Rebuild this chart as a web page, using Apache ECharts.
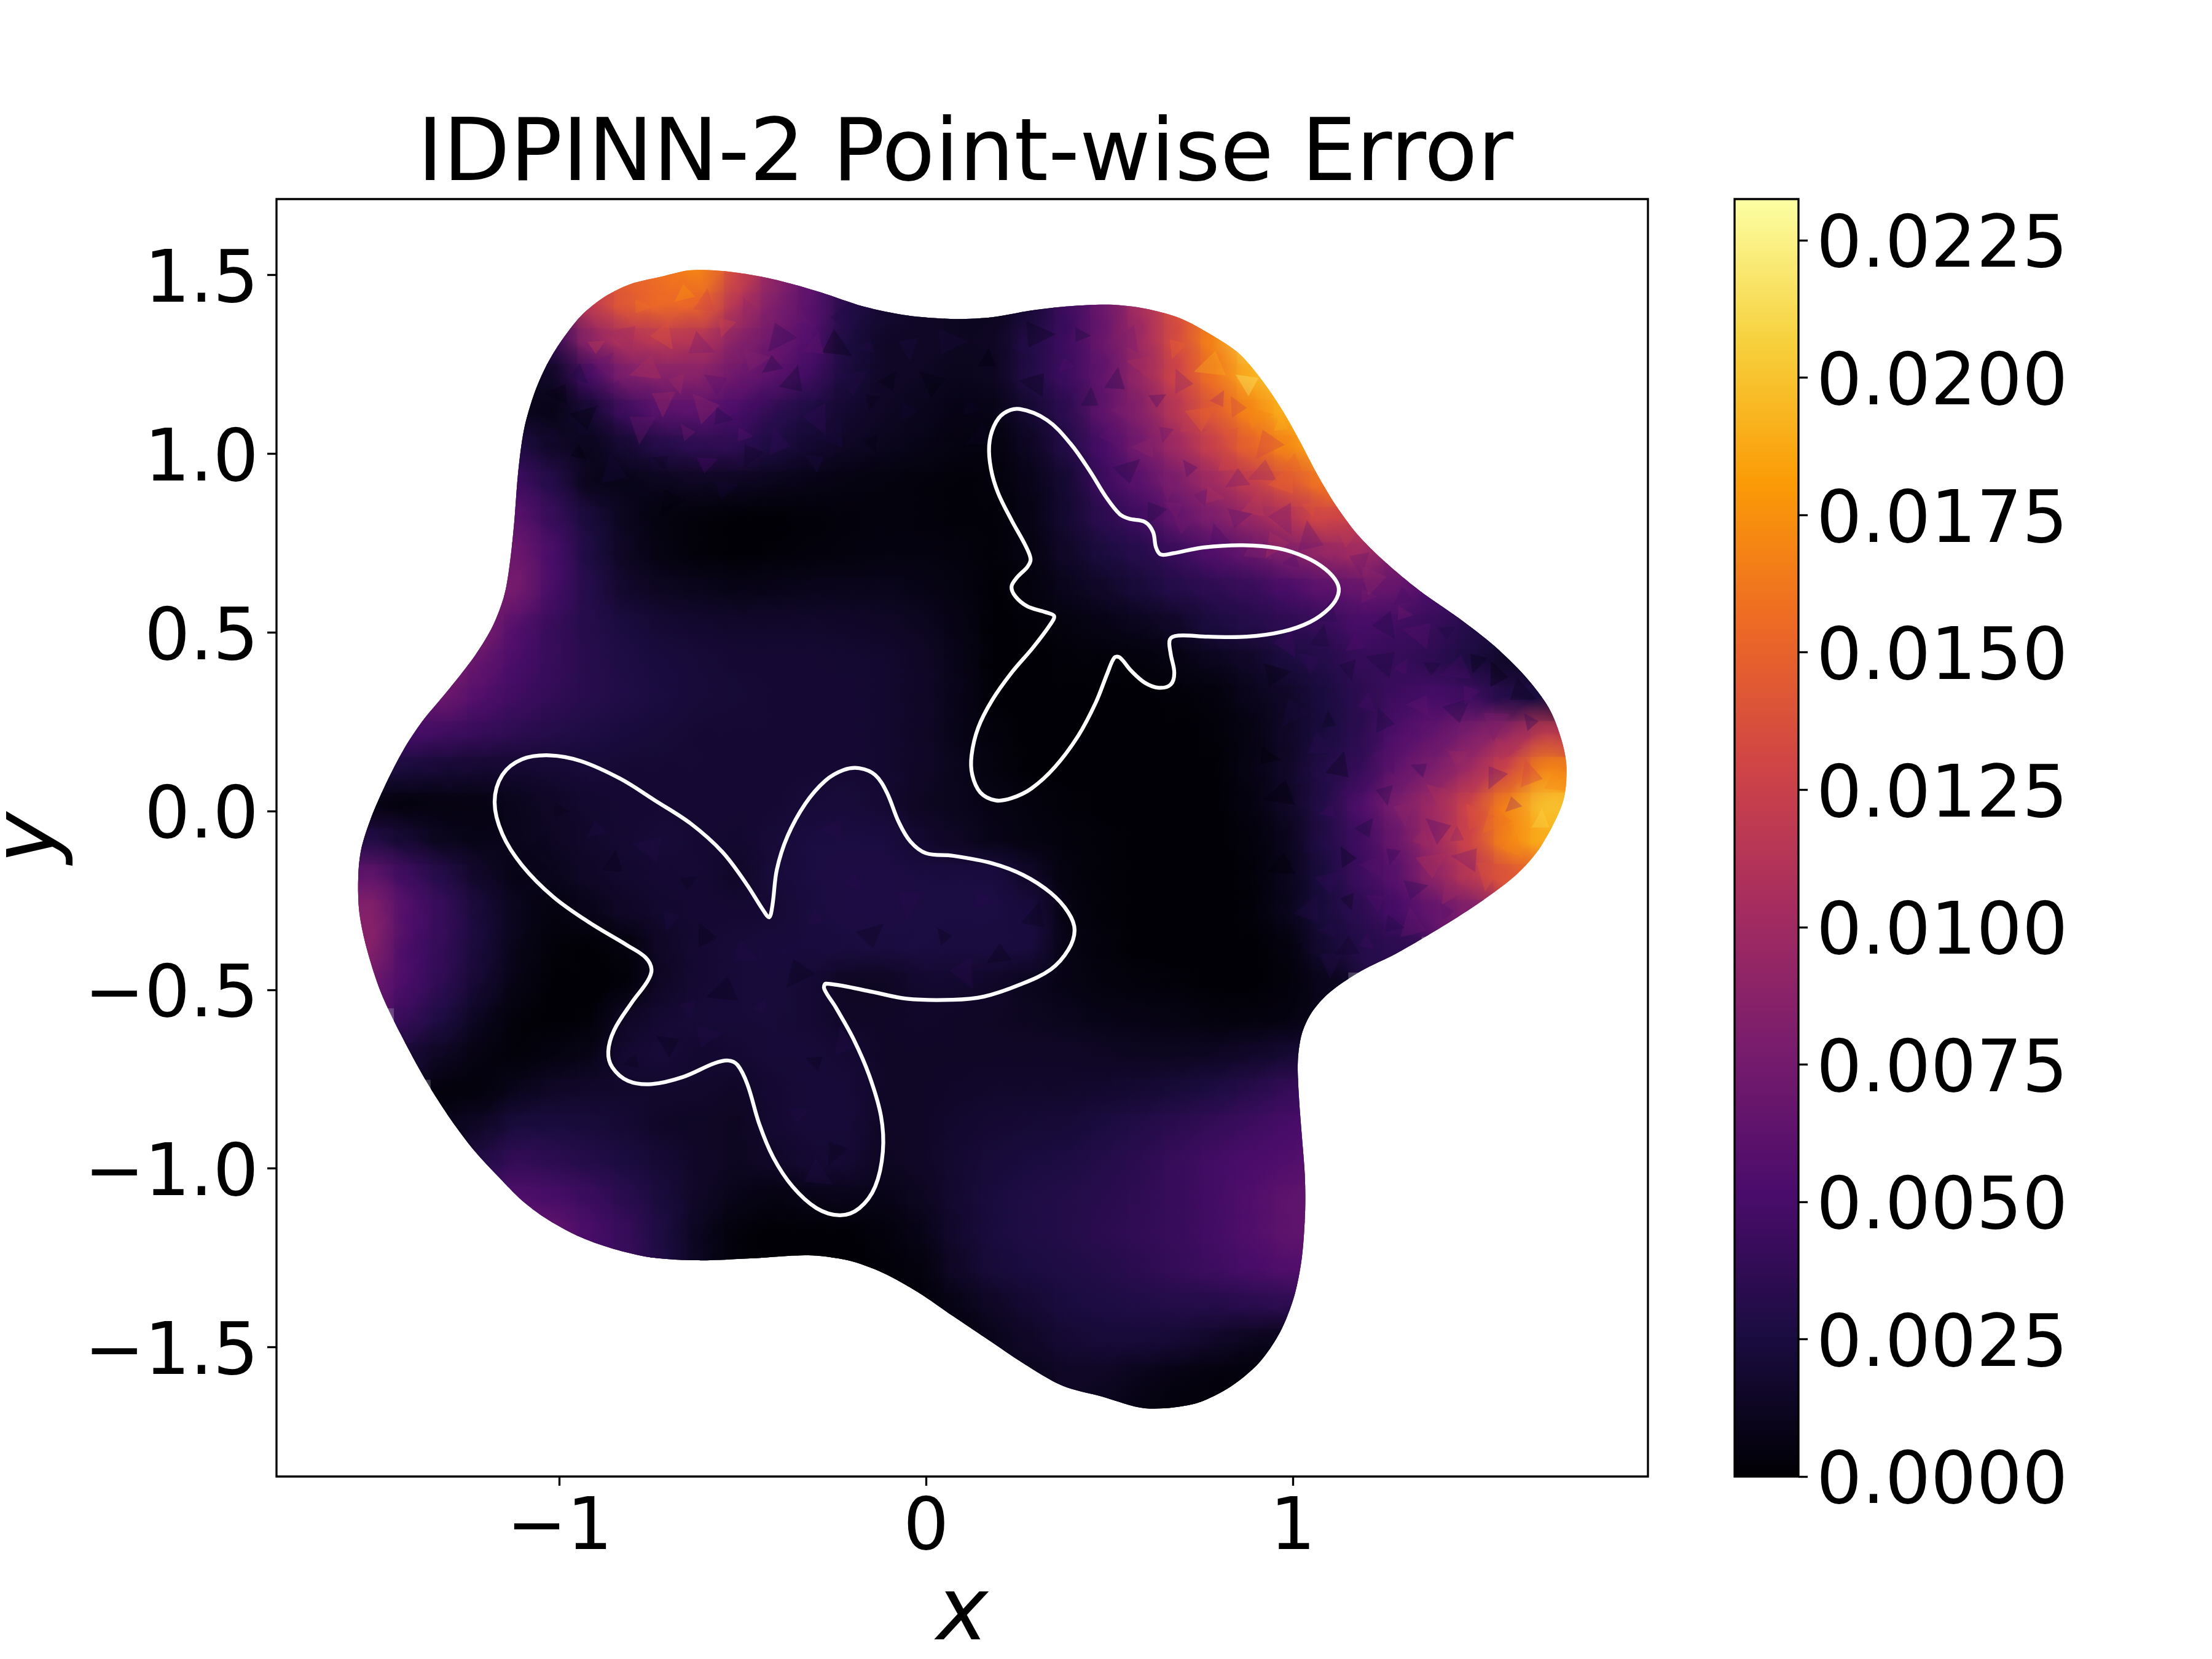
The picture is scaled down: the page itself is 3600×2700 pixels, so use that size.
<!DOCTYPE html>
<html>
<head>
<meta charset="utf-8">
<title>IDPINN-2 Point-wise Error</title>
<script src="https://cdn.jsdelivr.net/npm/echarts@6/dist/echarts.min.js"></script>
<style>html,body{margin:0;padding:0;background:#fff}#main{width:3600px;height:2700px}</style>
</head>
<body>
<div id="main"></div>
<script>
var n = null;
var titleText = 'IDPINN-2 Point-wise Error';
var xTicks = [-1, 0, 1];
var yTicks = [-1.5, -1, -0.5, 0, 0.5, 1, 1.5];
var barTicks = [0, 0.0025, 0.005, 0.0075, 0.01, 0.0125, 0.015, 0.0175, 0.02, 0.0225];
var barMax = 0.02325;
var inferno = ['#000004', '#1b0c41', '#4a0c6b', '#781c6d', '#a52c60', '#cf4446', '#ed6925', '#fb9b06', '#f7d13d', '#fcffa4'];

// outer edge of the domain
var domainEdge = [[-1.541,-0.107],[-1.514,-0.019],[-1.477,0.069],[-1.428,0.167],[-1.375,0.25],[-1.3,0.343],[-1.23,0.436],[-1.182,0.518],[-1.15,0.606],[-1.134,0.705],[-1.123,0.814],[-1.113,0.946],[-1.097,1.067],[-1.07,1.165],[-1.038,1.242],[-1,1.308],[-0.942,1.385],[-0.877,1.439],[-0.808,1.474],[-0.728,1.494],[-0.647,1.513],[-0.578,1.513],[-0.492,1.503],[-0.396,1.483],[-0.289,1.452],[-0.171,1.412],[-0.053,1.387],[0.073,1.377],[0.18,1.382],[0.287,1.401],[0.394,1.413],[0.501,1.417],[0.597,1.406],[0.693,1.379],[0.779,1.332],[0.854,1.28],[0.918,1.203],[0.972,1.121],[1.02,1.034],[1.068,0.94],[1.116,0.858],[1.175,0.776],[1.25,0.699],[1.346,0.617],[1.453,0.54],[1.549,0.463],[1.635,0.376],[1.699,0.288],[1.733,0.2],[1.747,0.123],[1.737,0.025],[1.678,-0.097],[1.614,-0.174],[1.517,-0.251],[1.41,-0.322],[1.282,-0.399],[1.186,-0.448],[1.1,-0.508],[1.052,-0.563],[1.025,-0.623],[1.014,-0.7],[1.017,-0.799],[1.025,-0.909],[1.033,-1.018],[1.034,-1.117],[1.025,-1.249],[1.004,-1.358],[0.966,-1.457],[0.907,-1.545],[0.822,-1.616],[0.726,-1.66],[0.597,-1.671],[0.479,-1.638],[0.372,-1.608],[0.265,-1.545],[0.169,-1.479],[0.073,-1.413],[-0.021,-1.347],[-0.118,-1.292],[-0.214,-1.257],[-0.321,-1.243],[-0.471,-1.251],[-0.621,-1.257],[-0.749,-1.249],[-0.856,-1.224],[-0.952,-1.188],[-1.038,-1.139],[-1.102,-1.09],[-1.166,-1.024],[-1.23,-0.953],[-1.295,-0.865],[-1.364,-0.755],[-1.434,-0.623],[-1.487,-0.508],[-1.525,-0.388],[-1.546,-0.284],[-1.549,-0.185]];

// white outlines
var upperShape = [[0.255,1.125],[0.33,1.094],[0.394,1.028],[0.447,0.951],[0.49,0.88],[0.528,0.831],[0.554,0.818],[0.597,0.809],[0.619,0.781],[0.627,0.738],[0.64,0.718],[0.672,0.721],[0.758,0.738],[0.865,0.744],[0.961,0.735],[1.036,0.71],[1.089,0.677],[1.121,0.639],[1.124,0.606],[1.1,0.568],[1.047,0.529],[0.972,0.502],[0.875,0.488],[0.768,0.488],[0.688,0.491],[0.665,0.48],[0.667,0.441],[0.677,0.387],[0.667,0.354],[0.635,0.345],[0.597,0.359],[0.56,0.392],[0.528,0.43],[0.514,0.43],[0.495,0.387],[0.463,0.304],[0.415,0.211],[0.351,0.123],[0.287,0.063],[0.233,0.036],[0.19,0.03],[0.148,0.052],[0.126,0.101],[0.124,0.156],[0.142,0.233],[0.18,0.31],[0.233,0.387],[0.292,0.458],[0.34,0.524],[0.349,0.546],[0.324,0.557],[0.276,0.573],[0.244,0.6],[0.233,0.628],[0.249,0.655],[0.276,0.683],[0.285,0.705],[0.271,0.743],[0.233,0.814],[0.196,0.891],[0.177,0.957],[0.172,1.023],[0.185,1.077],[0.212,1.113]];
var lowerShape = [[-1.177,0.025],[-1.156,0.101],[-1.102,0.145],[-1.027,0.156],[-0.942,0.14],[-0.835,0.091],[-0.74,0.03],[-0.642,-0.035],[-0.556,-0.114],[-0.492,-0.201],[-0.444,-0.278],[-0.428,-0.297],[-0.419,-0.262],[-0.407,-0.163],[-0.378,-0.07],[-0.33,0.02],[-0.275,0.085],[-0.225,0.115],[-0.182,0.12],[-0.139,0.101],[-0.107,0.052],[-0.075,-0.03],[-0.043,-0.085],[0,-0.118],[0.073,-0.125],[0.18,-0.146],[0.265,-0.179],[0.34,-0.229],[0.388,-0.284],[0.405,-0.333],[0.388,-0.388],[0.34,-0.443],[0.255,-0.486],[0.158,-0.519],[0.073,-0.528],[-0.053,-0.525],[-0.16,-0.503],[-0.273,-0.483],[-0.278,-0.497],[-0.246,-0.55],[-0.197,-0.64],[-0.155,-0.74],[-0.123,-0.854],[-0.118,-0.953],[-0.139,-1.051],[-0.182,-1.111],[-0.235,-1.131],[-0.299,-1.111],[-0.364,-1.051],[-0.417,-0.969],[-0.455,-0.876],[-0.487,-0.766],[-0.514,-0.711],[-0.54,-0.698],[-0.578,-0.706],[-0.663,-0.744],[-0.749,-0.764],[-0.813,-0.755],[-0.856,-0.717],[-0.867,-0.673],[-0.851,-0.613],[-0.803,-0.536],[-0.76,-0.476],[-0.749,-0.443],[-0.765,-0.41],[-0.813,-0.377],[-0.92,-0.311],[-1.017,-0.24],[-1.102,-0.152],[-1.156,-0.064]];

// error, in units of 0.001
var gridX = [-1.6,-1.5,-1.4,-1.3,-1.2,-1.1,-1,-0.9,-0.8,-0.7,-0.6,-0.5,-0.4,-0.3,-0.2,-0.1,0,0.1,0.2,0.3,0.4,0.5,0.6,0.7,0.8,0.9,1,1.1,1.2,1.3,1.4,1.5,1.6,1.7];
var gridY = [1.5,1.4,1.3,1.2,1.1,1,0.9,0.8,0.7,0.6,0.5,0.4,0.3,0.2,0.1,0,-0.1,-0.2,-0.3,-0.4,-0.5,-0.6,-0.7,-0.8,-0.9,-1,-1.1,-1.2,-1.3,-1.4,-1.5,-1.6,-1.7];
var gridErr = [
[n,n,n,n,n,n,n,n,15,16,17,13,9,6,4,n,n,n,n,n,n,n,n,n,n,n,n,n,n,n,n,n,n,n],
[n,n,n,n,n,4,8,12,14.5,15.5,15,11,8,6,3,2,1.5,1.2,1.2,2,4.5,7,10.5,14,17,n,n,n,n,n,n,n,n,n],
[n,n,n,n,n,1.5,4,9,11,11.5,11,8.5,7,5.5,2.5,1.5,1.5,1.2,1.3,3,4.5,7,10,13.5,17,21,22,n,n,n,n,n,n,n],
[n,n,n,n,0.5,1,1.5,5,8,8.5,8.5,7,6,4.5,2.3,1.5,1.3,1,1.2,3,4.5,6.5,9.5,13,16,19,21,n,n,n,n,n,n,n],
[n,n,n,n,1,1,0.8,2,4.5,6,6,5,3.5,2.5,1.8,1.3,1,0.7,0.8,2,3.5,6.5,8.5,11.5,14.5,17,19,20,n,n,n,n,n,n],
[n,n,n,n,3,2.8,1.5,1,2,3,3.5,3.5,2.5,1.8,1.3,1,0.8,0.5,0.4,1.3,3,5,7.5,10,12.5,15,17,19,n,n,n,n,n,n],
[n,n,n,n,5,4.5,3,0.9,0.8,1,1.2,1.1,0.9,0.7,0.5,0.4,0.3,0.2,0.3,0.9,2,4.5,6,8,10,12,14,16,16,n,n,n,n,n],
[n,n,n,n,6.5,6,4,2.3,1,0.4,0.2,0.1,0.1,0.2,0.3,0.4,0.3,0.2,0.2,0.7,2,3.5,4.5,6.5,8,9.5,11,13,12,n,n,n,n,n],
[n,n,n,n,7.5,7,5,2.5,1.2,0.5,0.2,0.1,0.2,0.3,0.4,0.5,0.5,0.4,0.2,0.6,1.5,2.5,3.2,4.2,5.5,6.5,8,9,10,8,n,n,n,n],
[n,n,n,8,8,7.5,4.8,3,1.6,1.2,1,0.8,0.9,1,1,1,0.8,0.5,0.1,0.4,1,1.5,2.3,3,3.5,4,5,6,6.5,6.5,5,4,n,n],
[n,n,n,8,8,5.5,4,3,2.5,2,1.8,1.7,1.7,1.7,1.6,1.5,1.2,0.7,0.1,0.2,0.4,0.7,1,1.5,2.5,3,3.5,4,5,4.5,4,3,2,n],
[n,n,7.5,8,6.5,5,4,3.2,2.7,2.4,2.2,2,2,2,1.9,1.8,1.5,0.8,0.1,0.1,0.2,0.2,0.3,0.6,1,1.5,2.5,3,4,4,3.5,2.5,1.5,1.5],
[n,n,6.5,7,5.5,4.5,3.8,3.2,2.8,2.5,2.2,2.1,2,2,2,1.8,1.5,0.9,0.1,0.1,0.1,0.1,0.1,0.2,0.3,1,1.5,2.5,3.5,4.5,5,4.5,3,2.5],
[n,5,5,4.5,4,3.5,3,2.7,2.4,2.2,2,2,2,2,2,1.8,1.5,0.8,0.3,0.1,0.1,0.1,0.1,0.1,0.2,0.6,1.5,2.5,3.5,5.5,6.5,8,9.5,12],
[n,2.5,2.3,2,1.8,1.8,2,2.2,2,2,2,2,2,2,2,1.8,1.5,1,0.4,0.1,0.1,0.1,0.1,0.1,0.1,0.7,1.5,3,4,6.5,8,10,13,17],
[0.5,0.5,0.3,0.5,0.6,1,1.5,1.8,2,2,2,2,2,2.2,2.3,2,1.2,1,0.7,0.4,0.2,0.1,0.1,0.1,0.1,0.5,1.5,3,5.5,8,10,13,17,20],
[3,3,2,1,0.8,1,1.3,1.7,2,2.2,2,1.8,2.2,2.6,2.6,2.6,1.8,1.3,0.8,0.5,0.3,0.2,0.1,0.1,0.1,0.3,1,3,4.5,7,10,13,17,19],
[6.5,6.5,4.5,3,1.5,0.7,1,1.5,1.8,2,2,1.5,2.3,2.6,2.7,2.7,2.6,2.6,2.6,1.5,0.4,0.2,0.1,0.1,0.1,0.2,1,2.5,4.5,6,9,11.5,14,15],
[8.5,8.5,5.5,4,2.2,1,0.4,0.9,1.5,1.8,2,2,2,2.5,2.7,2.7,2.6,2.6,2.6,2.4,0.5,0.2,0.1,0.1,0.1,0.2,1,2.5,3.5,5,6.5,8,n,n],
[8.5,8.5,5,3.8,2.2,0.8,0.2,0.1,0.4,1.5,2,2.2,2.4,2.4,2.5,2.5,2.6,2.5,2.5,2.4,0.6,0.3,0.1,0.1,0.1,0.1,0.4,2,3,3.5,n,n,n,n],
[n,7,5,3.5,1.8,0.6,0.1,0.1,0.2,1.5,2,2.2,2.3,2,1.2,1.2,1.8,1.8,1.5,1,0.7,0.4,0.3,0.2,0.1,0.1,0.3,1,n,n,n,n,n,n],
[n,n,4,2.5,1,0.2,0.1,0.2,1.5,2,2.2,2.2,2.2,2,1.5,1.5,1.6,1.5,1.3,1.2,1,0.8,0.7,0.6,0.4,0.4,0.5,1,n,n,n,n,n,n],
[n,n,2,1.2,0.5,0.2,0.5,0.8,2,2.2,1.8,2,2.2,2.2,2,1.5,1.5,1.5,1.5,1.5,1.5,1.3,1.2,1.2,1.3,1.6,2,2.5,n,n,n,n,n,n],
[n,n,n,0.3,0.3,1,1.5,1.7,1.7,1.7,1.7,1.5,2,2.2,2.2,1.5,1.5,1.6,1.7,1.7,1.7,1.8,2,2.3,2.7,3.3,4,4.5,n,n,n,n,n,n],
[n,n,n,1,1.5,2.5,2.5,2.3,2,1.5,1.4,1.2,2,2.2,2.2,1.4,1.5,1.8,2,2.1,2.2,2.6,3,3.5,4,4.5,5,5.5,n,n,n,n,n,n],
[n,n,n,n,3,4,3.5,3,2.5,2,1.5,1.2,1.5,2,2,1.2,1.5,1.9,2.3,2.5,2.7,3.1,3.5,4.2,4.8,5.2,5.5,6,n,n,n,n,n,n],
[n,n,n,n,5,5.5,5,4.3,3.3,2.3,1.4,0.8,0.5,0.8,0.9,0.8,1.2,1.9,2.5,2.8,3,3.3,3.7,4.2,4.8,5.5,6.3,6.5,n,n,n,n,n,n],
[n,n,n,n,n,7,6.5,5,4,2.5,1,0.2,0.1,0.1,0.1,0.3,0.8,1.8,2.5,2.8,3,3.5,3.8,4.2,4.8,5.5,6.3,6.5,n,n,n,n,n,n],
[n,n,n,n,n,n,n,5,4,2.5,1,0.2,0.1,0.1,0.1,0.2,0.4,1.5,2.3,2.6,2.8,3,3.5,4,4.5,5,5.5,5.5,n,n,n,n,n,n],
[n,n,n,n,n,n,n,n,n,n,n,n,n,n,n,n,0.2,0.8,1.4,2,2.5,2.7,2.8,3,3,3.3,3.5,n,n,n,n,n,n,n],
[n,n,n,n,n,n,n,n,n,n,n,n,n,n,n,n,n,0.3,1,1.5,2,2.2,2.2,2,1.5,1,0.8,n,n,n,n,n,n,n],
[n,n,n,n,n,n,n,n,n,n,n,n,n,n,n,n,n,n,n,1,1.4,1.3,0.9,0.5,0.3,0.3,n,n,n,n,n,n,n,n],
[n,n,n,n,n,n,n,n,n,n,n,n,n,n,n,n,n,n,n,n,n,1,0.6,0.3,0.3,n,n,n,n,n,n,n,n,n]
];

// small facets seen in the mottled parts: x, y, error (0.001)
var topLeftFlecks = [[-0.78,1.41,16],[-0.66,1.45,18],[-0.6,1.42,13],[-0.72,1.33,14],[-0.82,1.33,10],[-0.9,1.3,12],[-0.55,1.36,13],[-0.48,1.4,9],[-0.62,1.3,8],[-0.76,1.24,11],[-0.85,1.18,6],[-0.68,1.2,10],[-0.57,1.2,6],[-0.47,1.26,8.5],[-0.4,1.33,4],[-0.34,1.38,7],[-0.95,1.22,2.5],[-1,1.17,0.6],[-0.93,1.1,0.4],[-0.78,1.08,7],[-0.65,1.06,7.5],[-0.56,1.1,3],[-0.45,1.15,5],[-0.36,1.2,2],[-0.3,1.1,4],[-0.72,0.98,1.2],[-0.6,0.97,5],[-0.48,1,1.5],[-0.4,1.03,4],[-0.25,1.3,0.8],[-0.16,1.3,3],[-0.1,1.2,0.5],[-0.05,1.3,2.5],[0.02,1.2,0.4],[0.06,1.31,2.5],[0.12,1.13,1.6],[0.17,1.26,0.3],[0.26,1.3,3],[0.3,1.2,1],[-0.2,1.2,3],[-0.15,1.15,0.8],[-0.05,1.12,2],[0.05,1.05,0.5],[0.15,1.05,1.4],[-0.25,1.05,2.5],[-0.15,1.03,0.7],[-0.3,0.98,2.5],[-0.55,0.9,2],[-0.7,0.87,0.3],[-0.85,0.95,2.2],[-0.95,1,0.3],[-1.02,1.05,2],[-0.88,1.25,7],[-0.72,1.15,10],[-0.6,1.13,9],[-0.5,1.05,6],[-0.42,1.25,3],[-0.3,1.3,6.5],[-0.23,1.38,3]];
var topRightFlecks = [[0.42,1.33,2.5],[0.47,1.27,6.5],[0.52,1.2,3.5],[0.55,1.32,8],[0.6,1.25,11],[0.63,1.15,5.5],[0.68,1.3,15],[0.7,1.2,9],[0.72,1.08,12],[0.78,1.25,19],[0.8,1.15,11],[0.83,1.05,14],[0.88,1.2,22],[0.9,1.1,17],[0.93,1.03,13],[0.97,1.08,19],[1,0.97,15],[0.6,1.02,9],[0.55,0.95,3],[0.66,0.92,8],[0.72,0.96,5.5],[0.78,0.88,11],[0.85,0.93,8],[0.9,0.85,12],[0.97,0.82,8],[1.05,0.85,14],[0.7,0.8,7.5],[0.62,0.84,3],[0.8,0.76,5],[0.9,0.73,8.5],[1,0.7,6],[1.1,0.72,10],[1.18,0.7,7],[1.15,0.78,12],[0.3,1.33,1],[0.38,1.25,5.5],[0.45,1.15,2.5],[0.5,1.05,6.5],[0.55,1.12,8],[0.75,1.1,15],[0.65,1.06,7],[0.85,1.13,13],[0.82,0.97,13],[0.92,0.95,10],[0.98,0.92,15],[0.75,0.88,7],[0.68,0.85,8],[0.85,0.82,6.5],[0.95,0.75,11],[1.05,0.76,7]];
var rightFlecks = [[1.2,0.6,8],[1.3,0.6,5],[1.1,0.55,3.5],[1.25,0.52,3],[1.35,0.5,6],[1.42,0.5,2.5],[1.5,0.42,0.8],[1.56,0.38,0.4],[1.62,0.33,1],[1.45,0.4,5],[1.3,0.4,5.5],[1.15,0.4,2],[1.05,0.42,4],[0.95,0.38,0.6],[1,0.28,2.5],[1.1,0.25,1],[1.2,0.3,5],[1.35,0.3,6.5],[1.45,0.28,3],[1.55,0.25,8],[1.65,0.25,4],[0.93,0.15,0.1],[1.03,0.1,2.5],[1.13,0.12,1],[1.25,0.15,5.5],[1.35,0.12,4],[1.45,0.15,10],[1.55,0.1,7],[1.65,0.1,13],[1.72,0.08,17],[1.1,0,4.5],[1.2,-0.05,2.5],[1.3,0,9],[1.4,-0.05,6],[1.5,-0.02,14],[1.6,0.02,10],[1.68,-0.03,21],[1.6,-0.1,17],[1.48,-0.13,8],[1.38,-0.15,11],[1.27,-0.12,4],[1.15,-0.13,1],[1.05,-0.1,2.5],[0.97,-0.15,0.2],[1.05,-0.28,3],[1.15,-0.25,1.2],[1.23,-0.25,5.5],[1.33,-0.22,4],[1.43,-0.22,10],[1.33,-0.32,7],[1.2,-0.37,4.5],[1.1,-0.33,3.2],[1,-0.4,0.6],[1.1,-0.42,3],[1.22,0.65,9],[1.3,0.55,7.5],[1.17,0.47,5.5],[1.08,0.48,2.3],[0.98,0.47,4.5],[1.25,0.42,2.5],[1.38,0.4,2],[1.48,0.33,6],[1.25,0.25,2.5],[1.07,0.18,3.5],[0.97,0.05,0.3],[1.15,0.05,4.5],[1.25,0.05,3.5],[1.4,0.05,11],[1.58,0.17,11],[1.55,-0.02,16],[1.45,-0.07,9],[1.35,-0.08,10],[1.22,-0.15,6],[1.1,-0.2,4],[1.53,-0.17,14],[1.42,-0.28,6],[1.27,-0.32,3],[1.15,-0.38,1.5]];
var wingFlecks = [[-1,0,0.8],[-0.9,-0.05,2.8],[-0.85,-0.15,0.9],[-1.05,-0.1,1],[-0.75,-0.1,3],[-0.65,-0.2,1],[-0.7,-0.3,2.8],[-0.6,-0.35,0.9],[-0.5,-0.4,3],[-0.55,-0.5,0.9],[-0.45,-0.55,3],[-0.65,-0.55,3],[-0.7,-0.65,0.9],[-0.6,-0.63,3],[-0.35,-0.45,1],[-0.3,-0.3,3.3],[-0.2,-0.2,3.5],[-0.25,-0.05,3.2],[-0.15,-0.35,1.2],[-0.05,-0.25,3.4],[0.05,-0.35,1],[0.15,-0.25,3.3],[0.2,-0.4,0.8],[0.3,-0.3,1],[0.1,-0.45,3.3],[-0.3,-0.7,0.9],[-0.35,-0.85,3],[-0.25,-0.95,1],[-0.22,-0.65,3],[-0.3,-1.02,2.8],[-0.8,-0.7,1]];

function errColor(v){
	return echarts.color.lerp(Math.min(v / barMax, 1), inferno);
}

function softDisc(p, r, c, a){
	return {type: 'circle', shape: {cx: p[0], cy: p[1], r: r}, style: {fill: new echarts.graphic.RadialGradient(0.5, 0.5, 0.5, [
		{offset: 0, color: echarts.color.modifyAlpha(c, a)},
		{offset: 0.45, color: echarts.color.modifyAlpha(c, a * 0.6)},
		{offset: 1, color: echarts.color.modifyAlpha(c, 0)}
	])}};
}

// a facet is a small uneven triangle, its turn only varies the look
function facet(p, r, c, k){
	var a = k * 2.4;
	var pts = [
		[p[0] + r * Math.cos(a), p[1] + r * Math.sin(a)],
		[p[0] + r * 0.7 * Math.cos(a + 2.2), p[1] + r * 0.7 * Math.sin(a + 2.2)],
		[p[0] + r * 0.9 * Math.cos(a + 4.2), p[1] + r * 0.9 * Math.sin(a + 4.2)]
	];
	return {type: 'polygon', shape: {points: pts}, style: {fill: c, opacity: 0.35}};
}

function renderField(params, api){
	var kids = [];
	var stepX = Math.abs(api.coord([0.1, 0])[0] - api.coord([0, 0])[0]);
	var stepY = Math.abs(api.coord([0, 0.1])[1] - api.coord([0, 0])[1]);
	var i, j, v, p;
	// flat cells first so nothing is left bare, soft cells on top to melt the edges
	for (i = 0; i < gridY.length; i++) {
		for (j = 0; j < gridX.length; j++) {
			v = gridErr[i][j];
			if (v === null) continue;
			p = api.coord([gridX[j], gridY[i]]);
			kids.push({type: 'rect', shape: {x: p[0] - stepX / 2 - 1, y: p[1] - stepY / 2 - 1, width: stepX + 2, height: stepY + 2}, style: {fill: errColor(v / 1000)}});
		}
	}
	for (i = 0; i < gridY.length; i++) {
		for (j = 0; j < gridX.length; j++) {
			v = gridErr[i][j];
			if (v === null) continue;
			kids.push(softDisc(api.coord([gridX[j], gridY[i]]), stepX * 1.2, errColor(v / 1000), 0.95));
		}
	}
	[topLeftFlecks, topRightFlecks, rightFlecks, wingFlecks].forEach(function(list){
		list.forEach(function(f, k){
			kids.push(facet(api.coord([f[0], f[1]]), stepX * (0.3 + 0.06 * (k % 5)), errColor(f[2] / 1000), k));
		});
	});
	var edge = domainEdge.map(function(d){ return api.coord(d); });
	return {type: 'group', children: kids, clipPath: {type: 'polygon', shape: {points: edge, smooth: 0.3}}};
}

function renderOutline(shapeData){
	return function(params, api){
		return {
			type: 'polygon',
			shape: {points: shapeData.map(function(d){ return api.coord(d); }), smooth: 0.35},
			style: {fill: 'none', stroke: '#fff', lineWidth: 6.25}
		};
	};
}

function renderBar(params, api){
	var a = api.coord([0, barMax]);
	var b = api.coord([1, 0]);
	var stops = inferno.map(function(c, i){ return {offset: 1 - i / (inferno.length - 1), color: c}; }).reverse();
	return {type: 'rect', shape: {x: a[0], y: a[1], width: b[0] - a[0], height: b[1] - a[1]}, style: {fill: new echarts.graphic.LinearGradient(0, 0, 0, 1, stops)}};
}

var tickFont = {fontFamily: 'DejaVu Sans', fontSize: 117, color: '#000'};
var spineW = 3.33;
var tickStyle = {width: spineW, color: '#000'};
var nameFont = {fontFamily: 'DejaVu Sans', fontStyle: 'italic', fontSize: 142, color: '#000'};

function minusFmt(val){
	return String(val).replace('-', '\u2212');
}
function oneDec(val){
	return val.toFixed(1).replace('-', '\u2212');
}

var option = {
	animation: false,
	backgroundColor: '#fff',
	title: {
		text: titleText, left: 1566, top: 180, textAlign: 'center',
		textStyle: {fontFamily: 'DejaVu Sans', fontSize: 141.5, fontWeight: 'normal', color: '#000'}
	},
	grid: [
		{left: 450, top: 324, width: 2232, height: 2079, show: true, borderColor: '#000', borderWidth: spineW, backgroundColor: 'transparent', outerBoundsMode: 'none'},
		{left: 2823, top: 324, width: 104, height: 2079, show: true, borderColor: '#000', borderWidth: spineW, backgroundColor: 'transparent', outerBoundsMode: 'none', z: 5}
	],
	xAxis: [
		{type: 'value', gridIndex: 0, min: -1.772, max: 1.969, splitLine: {show: false}, axisLine: {show: false, onZero: false},
			axisTick: {show: true, length: 15, lineStyle: tickStyle, customValues: xTicks},
			axisLabel: Object.assign({margin: 29, customValues: xTicks, formatter: minusFmt}, tickFont),
			name: 'x', nameLocation: 'middle', nameGap: 157, nameTextStyle: nameFont},
		{type: 'value', gridIndex: 1, min: 0, max: 1, show: false}
	],
	yAxis: [
		{type: 'value', gridIndex: 0, min: -1.862, max: 1.7125, splitLine: {show: false}, axisLine: {show: false, onZero: false},
			axisTick: {show: true, length: 15, lineStyle: tickStyle, customValues: yTicks},
			axisLabel: Object.assign({margin: 29, customValues: yTicks, formatter: oneDec, verticalAlign: 'top', lineHeight: 26}, tickFont),
			name: 'y', nameLocation: 'middle', nameGap: 327, nameTextStyle: nameFont},
		{type: 'value', gridIndex: 1, min: 0, max: barMax, position: 'right', splitLine: {show: false}, axisLine: {show: false, onZero: false},
			axisTick: {show: true, length: 15, lineStyle: tickStyle, customValues: barTicks},
			axisLabel: Object.assign({margin: 29, customValues: barTicks, verticalAlign: 'top', lineHeight: 26, formatter: function(val){ return val.toFixed(4); }}, tickFont)}
	],
	series: [
		{type: 'custom', xAxisIndex: 0, yAxisIndex: 0, coordinateSystem: 'cartesian2d', data: [[0, 0]], renderItem: renderField, silent: true, z: 1},
		{type: 'custom', xAxisIndex: 0, yAxisIndex: 0, coordinateSystem: 'cartesian2d', data: [[0, 0]], renderItem: renderOutline(upperShape), silent: true, z: 3},
		{type: 'custom', xAxisIndex: 0, yAxisIndex: 0, coordinateSystem: 'cartesian2d', data: [[0, 0]], renderItem: renderOutline(lowerShape), silent: true, z: 3},
		{type: 'custom', xAxisIndex: 1, yAxisIndex: 1, coordinateSystem: 'cartesian2d', data: [[0, 0]], renderItem: renderBar, silent: true, z: 1}
	]
};

var myChart = echarts.init(document.getElementById('main'), null, {renderer: 'canvas'});
myChart.setOption(option);
</script>
</body>
</html>
